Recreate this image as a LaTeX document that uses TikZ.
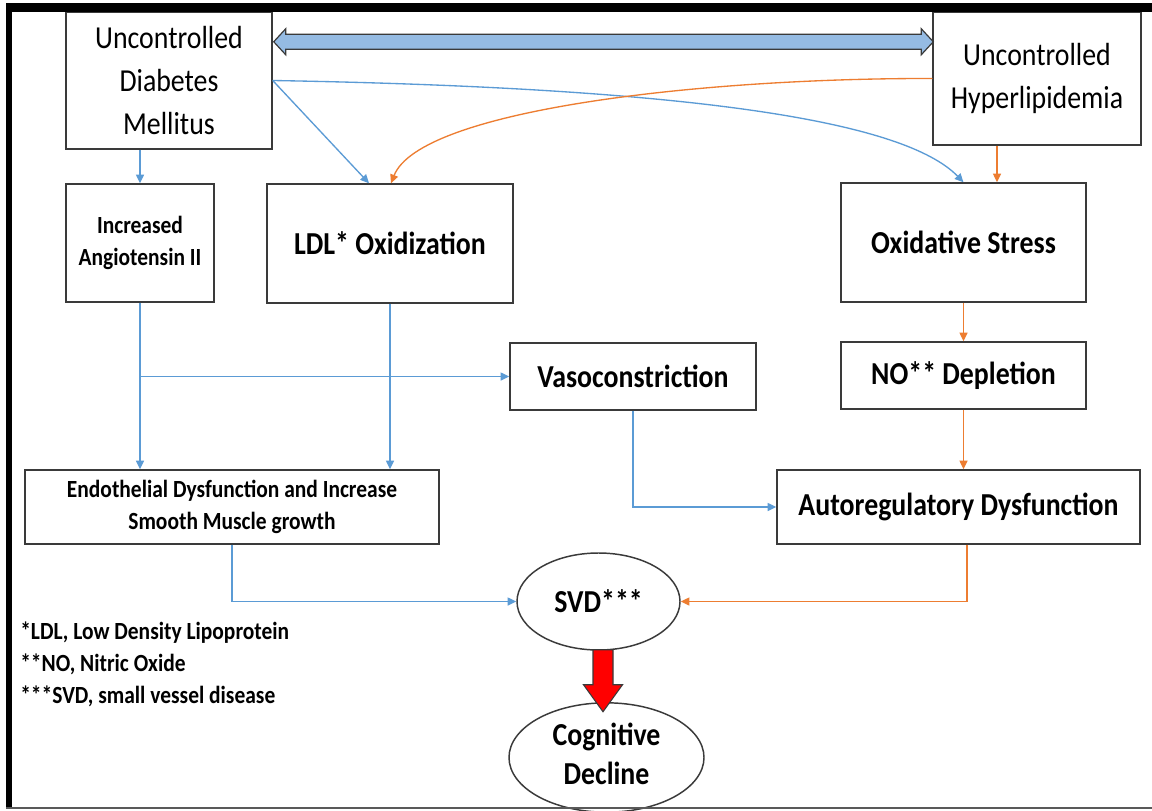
\documentclass[tikz,border=0pt]{standalone}
\usepackage{fontspec}
\setmainfont[FakeStretch=0.87]{Carlito}
\usetikzlibrary{arrows.meta,calc,shapes.geometric}
\definecolor{cblue}{HTML}{5B9BD5}
\definecolor{corange}{HTML}{ED7D31}
\definecolor{cline}{HTML}{3A3A3A}
\definecolor{bigfill}{HTML}{95BBE3}
\begin{document}
\begin{tikzpicture}[x=0.75pt,y=-0.75pt,
  box/.style={draw=cline, line width=1.1pt, inner sep=0pt, align=center, fill=white},
  ell/.style={ellipse, draw=cline, line width=1.1pt, inner sep=0pt, fill=white},
  bigtxt/.style={font=\fontsize{24}{32}\selectfont},
  boldtxt/.style={font=\bfseries\fontsize{24}{32}\selectfont},
  smalltxt/.style={font=\bfseries\fontsize{18.5}{24}\selectfont},
  barrow/.style={draw=cblue, line width=1pt, -{Triangle[length=6.5pt,width=6pt]}},
  oarrow/.style={draw=corange, line width=1pt, -{Triangle[length=6.5pt,width=6pt]}}]
\useasboundingbox (0,0) rectangle (1152,810);
\fill[white] (0,0) rectangle (1152,810);

% boxes
\node[box, bigtxt, minimum width=154.5pt, minimum height=102.75pt] (dm) at (169,80.5) {Uncontrolled\\Diabetes\\Mellitus};
\node[box, bigtxt, minimum width=156pt, minimum height=99.75pt] (hl) at (1037,78.5) {Uncontrolled\\Hyperlipidemia};
\node[box, smalltxt, font=\bfseries\fontsize{18.5}{24.5}\selectfont, minimum width=111pt, minimum height=88.5pt] (ang) at (140,243) {Increased\\Angiotensin II};
\node[box, boldtxt, minimum width=184.5pt, minimum height=89.25pt] (ldl) at (390,243.5) {LDL* Oxidization};
\node[box, boldtxt, minimum width=183.75pt, minimum height=89.25pt] (ox) at (963.5,242.5) {Oxidative Stress};
\node[box, boldtxt, minimum width=184.5pt, minimum height=50.25pt] (vaso) at (633,376.5) {Vasoconstriction};
\node[box, boldtxt, minimum width=183.75pt, minimum height=50.25pt] (no) at (963.5,375.5) {NO** Depletion};
\node[box, smalltxt, minimum width=310.5pt, minimum height=55.5pt] (endo) at (232,507) {Endothelial Dysfunction and Increase\\Smooth Muscle growth};
\node[box, boldtxt, minimum width=272.25pt, minimum height=55.5pt] (auto) at (958.5,507) {Autoregulatory Dysfunction};
\node[ell, boldtxt, minimum width=122.25pt, minimum height=72.75pt] (svd) at (598.5,601.5) {\makebox[0pt]{SVD***}};
\node[ell, minimum width=146.25pt, minimum height=74.25pt] (cog) at (606.5,757.5)
  {\makebox[0pt]{\bfseries\fontsize{24}{29}\selectfont\begin{tabular}{@{}c@{}}Cognitive\\Decline\end{tabular}}};

% legend
\node[smalltxt, font=\bfseries\fontsize{18.5}{24}\selectfont, anchor=west, align=left, inner sep=0pt] (legend) at (20,664)
  {*LDL, Low Density Lipoprotein\\**NO, Nitric Oxide\\***SVD, small vessel disease};

% double arrow between the two causes
\coordinate (dl) at ($(dm.north east)+(1,30.5)$);
\coordinate (dr) at ($(hl.north west)+(1,30.5)$);
\filldraw[fill=bigfill, draw=cline, line width=0.9pt]
  (dl) -- ($(dl)+(12,-13)$) -- ($(dl)+(12,-7.5)$) -- ($(dr)+(-12,-7.5)$) -- ($(dr)+(-12,-13)$)
  -- (dr) -- ($(dr)+(-12,13)$) -- ($(dr)+(-12,7.5)$) -- ($(dl)+(12,7.5)$) -- ($(dl)+(12,13)$) -- cycle;

% connectors
\draw[barrow] (ang.north |- dm.south) -- (ang.north);
\draw[barrow] (dm.east) -- ($(ldl.north)+(-21,0)$);
\draw[barrow] (dm.east) .. controls (700,88) and (905,122) .. (ox.north);
\draw[oarrow] (hl.west) .. controls (700,78) and (420,110) .. ($(ldl.north)+(1,0)$);
\coordinate (hx) at ($(ox.north)+(33.5,0)$);
\draw[oarrow] (hx |- hl.south) -- (hx);
\draw[barrow] (ang.south) -- (ang.south |- endo.north);
\draw[barrow] (ldl.south) -- (ldl.south |- endo.north);
\draw[barrow] (ang.south |- vaso.west) -- (vaso.west);
\draw[barrow] (vaso.south) |- (auto.west);
\draw[oarrow] (ox.south) -- (no.north);
\draw[oarrow] (no.south) -- (no.south |- auto.north);
\draw[barrow] (endo.south) |- (svd.west);
\coordinate (ax) at ($(auto.south)+(8.5,0)$);
\draw[oarrow] (ax) |- (svd.east);

% red arrow svd -> cognitive decline
\begin{scope}[shift={($(svd.south)+(4.5,-1)$)}]
\filldraw[fill=red, draw=cline, line width=0.8pt]
  (-10,0) -- (-10,35) -- (-19.5,35) -- (0,62) -- (19.5,35) -- (10,35) -- (10,0) -- cycle;
\end{scope}

% frame
\fill[black] (6,3) rectangle (1152,12);
\fill[black] (6,3) rectangle (12,808);
\draw[gray!70!black, line width=1.5pt] (6,807.5) -- (1152,807.5);
\end{tikzpicture}
\end{document}
